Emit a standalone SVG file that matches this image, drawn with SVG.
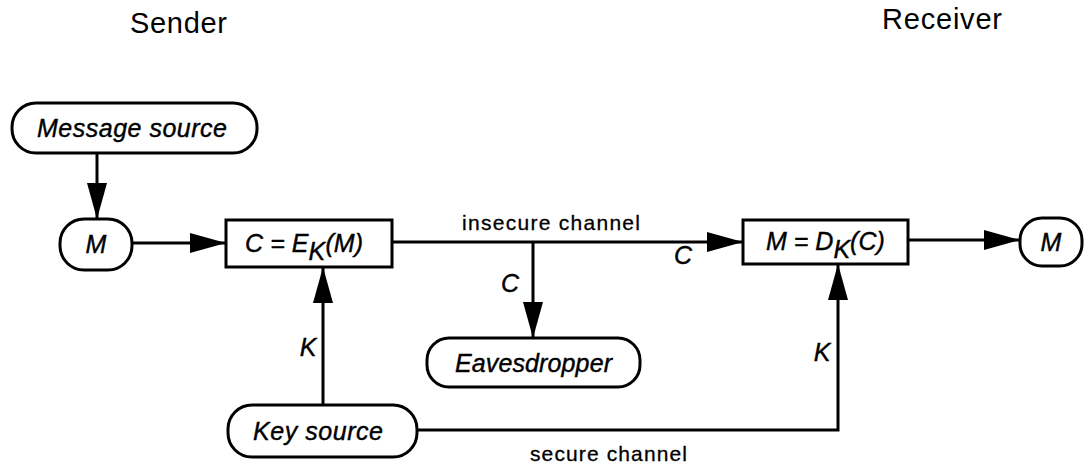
<svg xmlns="http://www.w3.org/2000/svg" width="1085" height="465" viewBox="0 0 1085 465">
<style>
.node{fill:#fff;stroke:#000;stroke-width:3}
.conn{fill:none;stroke:#000;stroke-width:3}
.lbl{font-family:"Liberation Sans",Arial,sans-serif;font-style:italic;font-size:25px;fill:#000;stroke:#000;stroke-width:0.4}
.head{font-family:"Liberation Sans",Arial,sans-serif;font-size:29px;fill:#000}
.ch{font-family:"Liberation Sans",Arial,sans-serif;font-size:21px;fill:#000;stroke:#000;stroke-width:0.3}
</style>
<defs>
<marker id="ah" markerUnits="userSpaceOnUse" markerWidth="36" markerHeight="20" refX="36" refY="10" orient="auto">
<path d="M0,0 L36,10 L0,20 z" fill="#000"/>
</marker>
</defs>
<text class="head" x="130" y="33" textLength="97">Sender</text>
<text class="head" x="882" y="29" textLength="120">Receiver</text>
<g id="connectors">
<line class="conn" x1="97" y1="153" x2="97" y2="219" marker-end="url(#ah)"/>
<line class="conn" x1="132" y1="243" x2="226" y2="243" marker-end="url(#ah)"/>
<line class="conn" x1="392" y1="242" x2="743" y2="242" marker-end="url(#ah)"/>
<line class="conn" x1="533" y1="242" x2="533" y2="338" marker-end="url(#ah)"/>
<line class="conn" x1="323" y1="405" x2="323" y2="267" marker-end="url(#ah)"/>
<path class="conn" d="M417,430 H838 V264" marker-end="url(#ah)"/>
<line class="conn" x1="908" y1="240" x2="1020" y2="240" marker-end="url(#ah)"/>
<text class="ch" x="462" y="230" textLength="178">insecure channel</text>
<text class="ch" x="530" y="461" textLength="157">secure channel</text>
<text class="lbl" x="510" y="292" text-anchor="middle">C</text>
<text class="lbl" x="683" y="264" text-anchor="middle">C</text>
<text class="lbl" x="308" y="356" text-anchor="middle">K</text>
<text class="lbl" x="822" y="361" text-anchor="middle">K</text>
</g>
<g id="message-source">
<rect class="node" x="12" y="103" width="245" height="50" rx="24"/>
<text class="lbl" x="37" y="137" textLength="190">Message source</text>
</g>
<g id="m-in">
<rect class="node" x="60" y="219" width="72" height="51" rx="24"/>
<text class="lbl" x="96" y="253" text-anchor="middle">M</text>
</g>
<g id="encrypt">
<rect class="node" x="226" y="220" width="166" height="47"/>
<text class="lbl" x="245" y="252" textLength="118">C = E<tspan dy="8">K</tspan><tspan dy="-8">(M)</tspan></text>
</g>
<g id="decrypt">
<rect class="node" x="743" y="220" width="165" height="44"/>
<text class="lbl" x="766" y="250">M = D<tspan dy="8">K</tspan><tspan dy="-8">(C)</tspan></text>
</g>
<g id="m-out">
<rect class="node" x="1020" y="218" width="62" height="48" rx="22"/>
<text class="lbl" x="1051" y="251" text-anchor="middle">M</text>
</g>
<g id="eavesdropper">
<rect class="node" x="427" y="338" width="213" height="49" rx="22"/>
<text class="lbl" x="455" y="372" textLength="157">Eavesdropper</text>
</g>
<g id="key-source">
<rect class="node" x="228" y="405" width="189" height="52" rx="24"/>
<text class="lbl" x="253" y="440" textLength="130">Key source</text>
</g>
</svg>
